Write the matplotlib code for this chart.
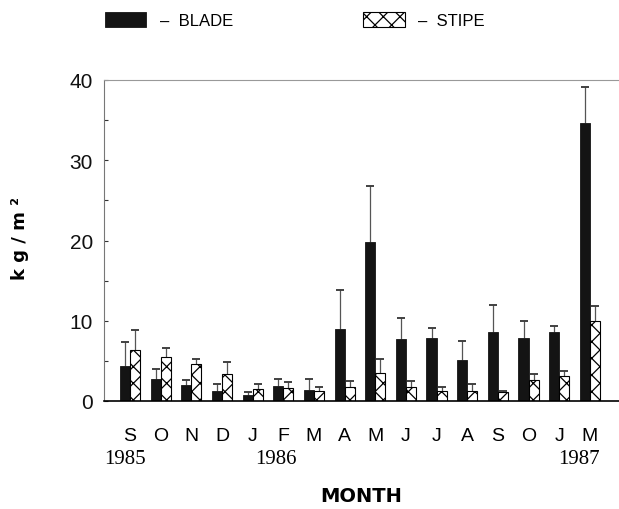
import numpy as np
import matplotlib.pyplot as plt
from matplotlib.transforms import blended_transform_factory

months = ["S", "O", "N", "D", "J", "F", "M", "A", "M", "J", "J", "A", "S", "O", "J", "M"]
years = ["1985", "1986", "1987"]
year_pos = [-0.15, 4.75, 14.65]   # under S 1985, J-F 1986, M 1987

blade = [4.4, 2.8, 2.0, 1.3, 0.8, 1.9, 1.4, 9.0, 19.8, 7.7, 7.8, 5.1, 8.6, 7.9, 8.55, 34.7]
blade_top = [7.3, 4.0, 2.6, 2.1, 1.1, 2.8, 2.8, 13.8, 26.8, 10.4, 9.05, 7.5, 12.0, 10.0, 9.4, 39.1]
stipe = [6.3, 5.5, 4.6, 3.4, 1.5, 1.6, 1.3, 1.7, 3.5, 1.8, 1.2, 1.3, 1.1, 2.65, 3.1, 10.0]
stipe_top = [8.8, 6.6, 5.2, 4.8, 2.1, 2.4, 1.7, 2.5, 5.2, 2.5, 1.7, 2.1, 1.3, 3.4, 3.7, 11.9]

x = np.arange(len(months))
w = 0.33

plt.rcParams['hatch.linewidth'] = 0.9
plt.rcParams['font.family'] = ['Liberation Sans', 'DejaVu Sans']

fig = plt.figure(figsize=(6.19, 5.10), dpi=100)
ax = fig.add_axes([104/619, 1 - 402/510, 1 - 104/619, (402 - 81)/510])

b1 = ax.bar(x - w/2, blade, w, color="#141414", edgecolor="#141414", linewidth=0.6,
            label="–  BLADE", zorder=2)
b2 = ax.bar(x + w/2, stipe, w, color="white", edgecolor="black", hatch="xx", linewidth=0.8,
            label="–  STIPE", zorder=2)

# upper error bars only, cap at the top end
for xs, v, top in [(x - w/2, blade, blade_top), (x + w/2, stipe, stipe_top)]:
    ax.vlines(xs, v, top, color="#555555", linewidth=0.9, zorder=1)
    ax.plot(xs, top, ls="none", marker="_", ms=6, mew=1.3, color="#333333", zorder=3)

ax.set_ylim(0, 40)
ax.set_xlim(-0.85, 15.95)
ax.set_yticks([0, 10, 20, 30, 40])
ax.set_yticks([5, 15, 25, 35], minor=True)
ax.tick_params(axis="y", which="both", direction="in", length=3, width=0.8,
               labelsize=15, pad=8, colors="#333333", labelcolor="#111111")
ax.set_xticks(x)
ax.set_xticklabels(months)
ax.tick_params(axis="x", length=0, labelsize=14, pad=19)

ax.spines["right"].set_visible(False)
ax.spines["top"].set_color("#999999")
ax.spines["left"].set_color("#777777")
ax.spines["bottom"].set_color("black")
ax.spines["bottom"].set_linewidth(1.2)

trans = blended_transform_factory(ax.transData, ax.transAxes)
for pos, yr in zip(year_pos, years):
    ax.text(pos, -0.18, yr, transform=trans, ha="center", va="center",
            fontsize=15, family="Liberation Serif")

fig.text(361/619, 1 - 497/510, "MONTH", ha="center", va="center",
         fontsize=14, fontweight="bold", family="DejaVu Sans")
fig.text(20/619, 1 - 238/510, "k g / m ²", ha="center", va="center",
         rotation=90, fontsize=13, fontweight="bold", family="DejaVu Sans")

fig.legend(handles=[b1, b2], loc="upper left", bbox_to_anchor=(98/619, 1 - 6/510),
           ncol=2, frameon=False, fontsize=12, handlelength=2.5, handleheight=1.05,
           handletextpad=0.8, columnspacing=7.8, borderaxespad=0)

fig.savefig("out.png", dpi=100)
